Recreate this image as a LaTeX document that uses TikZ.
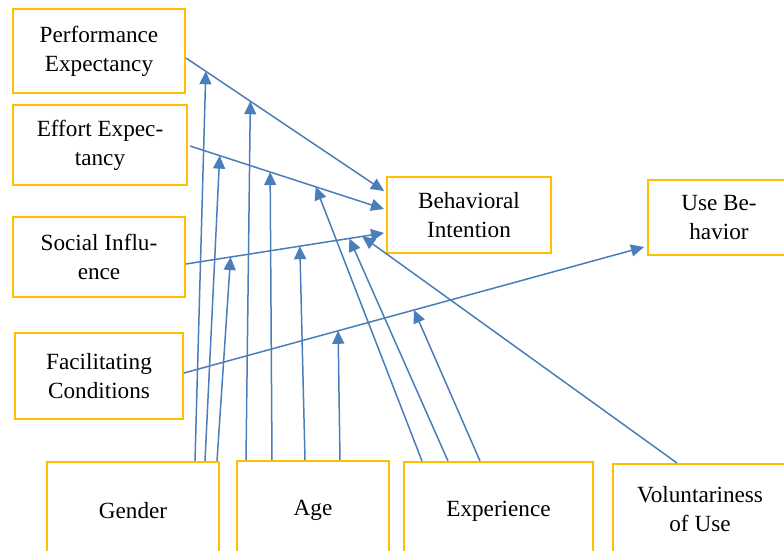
\documentclass[tikz,border=0pt]{standalone}
\usepackage{fontspec}
\setmainfont{Liberation Serif}
\usetikzlibrary{arrows.meta,calc}

\definecolor{boxgold}{HTML}{FFC000}
\definecolor{linkblue}{HTML}{4A7EBB}

\tikzset{
	factor/.style={draw=boxgold, line width=1pt, align=center, inner sep=0pt, font=\fontsize{11.6}{14.5}\selectfont},
	boxsize/.style 2 args={minimum width=#1*0.5pt, minimum height=#2*0.5pt},
	link/.style={draw=linkblue, line width=0.75pt, -{Triangle[length=6.5pt,width=6pt]}},
}

\begin{document}
\begin{tikzpicture}[x=0.5pt, y=-0.5pt]
		\useasboundingbox (0,0) rectangle (784,551);
		\clip (0,0) rectangle (784,551);
	
		% determinants
		\node[factor, boxsize={172}{84}] (perf) at (99,51) {Performance\\Expectancy};
		\node[factor, boxsize={174}{80}] (effort) at (100,145) {Effort Expec-\\tancy};
		\node[factor, boxsize={172}{80}] (social) at (99,257) {Social Influ-\\ence};
		\node[factor, boxsize={168}{86}] (facil) at (99,376) {Facilitating\\Conditions};
		
		\node[factor, boxsize={164}{76}] (intent) at (469,215) {Behavioral\\Intention};
		\node[factor, boxsize={142}{75}] (usebeh) at (719,217.5) {Use Be-\\havior};
		
		% moderators
		\node[factor, boxsize={172}{98}] (gender) at (133,511) {Gender};
		\node[factor, boxsize={152}{98}] (age) at (313,510) {Age};
		\node[factor, boxsize={189}{98}] (exper) at (498.5,511) {Experience};
		\node[factor, boxsize={174}{90}] (volunt) at (700,509) {Voluntariness\\of Use};
		
		\draw[link] ($(perf.east)+(0,7)$) -- coordinate[pos=0.1] (pe1) coordinate[pos=0.325] (pe2) ($(intent.west)+(-2,-24)$);
		\draw[link] ($(effort.east)+(2,1)$) -- coordinate[pos=0.153] (ee1) coordinate[pos=0.413] (ee2) coordinate[pos=0.648] (ee3) ($(intent.west)+(-2,-6)$);
		\draw[link] ($(social.east)+(0,7)$) -- coordinate[pos=0.225] (si1) coordinate[pos=0.575] (si2) coordinate[pos=0.825] (si3) coordinate[pos=0.89] (si4) ($(intent.west)+(-2,18)$);
		\draw[link] ($(facil.east)+(0,-3)$) -- coordinate[pos=0.335] (fc1) coordinate[pos=0.5] (fc2) ($(usebeh.west)+(-3,29.5)$);
		
		\draw[link] ($(gender.north)+(62,0)$) -- (pe1);
		\draw[link] ($(gender.north)+(72,0)$) -- (ee1);
		\draw[link] ($(gender.north)+(84,0)$) -- (si1);
		
		\draw[link] ($(age.north)+(-67,0)$) -- (pe2);
		\draw[link] ($(age.north)+(-41,0)$) -- (ee2);
		\draw[link] ($(age.north)+(-8,0)$) -- (si2);
		\draw[link] ($(age.north)+(27,0)$) -- (fc1);
		
		\draw[link] ($(exper.north)+(-76.5,0)$) -- (ee3);
		\draw[link] ($(exper.north)+(-50.5,0)$) -- (si3);
		\draw[link] ($(exper.north)+(-18.5,0)$) -- (fc2);
		
		\draw[link] ($(volunt.north)+(-23,0)$) -- (si4);
	
	\end{tikzpicture}
\end{document}
